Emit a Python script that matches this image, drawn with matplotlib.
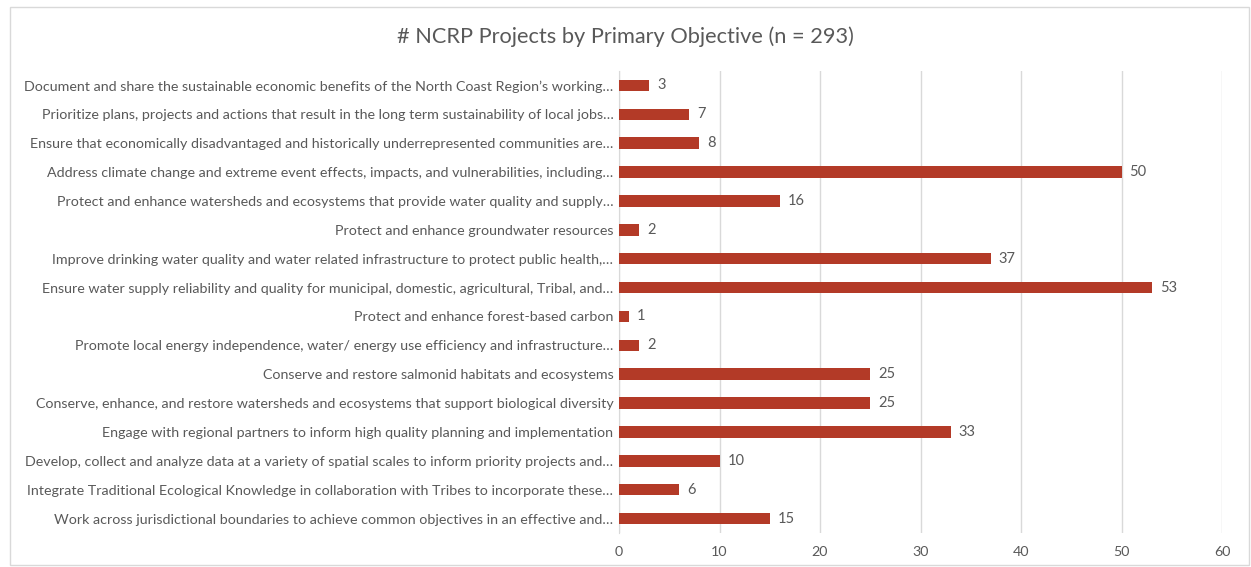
import matplotlib.pyplot as plt
from matplotlib.patches import Rectangle

plt.rcParams['font.family'] = ['Lato', 'DejaVu Sans']

# objectives, top to bottom as in the chart
objectives = [
    'Document and share the sustainable economic benefits of the North Coast Region\u2019s working\u2026',
    'Prioritize plans, projects and actions that result in the long term sustainability of local jobs\u2026',
    'Ensure that economically disadvantaged and historically underrepresented communities are\u2026',
    'Address climate change and extreme event effects, impacts, and vulnerabilities, including\u2026',
    'Protect and enhance watersheds and ecosystems that provide water quality and supply\u2026',
    'Protect and enhance groundwater resources',
    'Improve drinking water quality and water related infrastructure to protect public health,\u2026',
    'Ensure water supply reliability and quality for municipal, domestic, agricultural, Tribal, and\u2026',
    'Protect and enhance forest-based carbon',
    'Promote local energy independence, water/ energy use efficiency and infrastructure\u2026',
    'Conserve and restore salmonid habitats and ecosystems',
    'Conserve, enhance, and restore watersheds and ecosystems that support biological diversity',
    'Engage with regional partners to inform high quality planning and implementation',
    'Develop, collect and analyze data at a variety of spatial scales to inform priority projects and\u2026',
    'Integrate Traditional Ecological Knowledge in collaboration with Tribes to incorporate these\u2026',
    'Work across jurisdictional boundaries to achieve common objectives in an effective and\u2026',
]
counts = [3, 7, 8, 50, 16, 2, 37, 53, 1, 2, 25, 25, 33, 10, 6, 15]

bar_color = '#B33A27'
text_color = '#595959'

fig = plt.figure(figsize=(12.51, 5.67), dpi=100)
fig.patches.append(Rectangle((10 / 1251, 2 / 567), 1239 / 1251, 558 / 567,
                             transform=fig.transFigure, fill=False,
                             edgecolor='#D9D9D9', linewidth=1))
ax = fig.add_axes([619 / 1251, 1 - 533 / 567, 603 / 1251, 462 / 567])

ypos = list(range(len(objectives)))[::-1]
ax.barh(ypos, counts, height=0.4, color=bar_color, zorder=3)
for y, v in zip(ypos, counts):
    ax.text(v + 0.8, y, str(v), va='center', ha='left', fontsize=10.5, color=text_color)

ax.set_xlim(0, 60)
ax.set_ylim(-0.5, len(objectives) - 0.5)
ax.set_xticks(range(0, 61, 10))
ax.set_yticks(ypos)
ax.set_yticklabels(objectives, fontsize=10.3, color=text_color)
ax.tick_params(axis='x', colors=text_color, labelsize=10.3, length=0, pad=9)
ax.tick_params(axis='y', length=0, pad=4)
ax.grid(axis='x', color='#D9D9D9', linewidth=1, zorder=0)
for s in ['top', 'right', 'bottom']:
    ax.spines[s].set_visible(False)
ax.spines['left'].set_color('#D9D9D9')

fig.text(0.5, 1 - 37 / 567, '# NCRP Projects by Primary Objective (n = 293)',
         ha='center', va='center', fontsize=15.7, color=text_color)

fig.savefig('out.png', dpi=100)
